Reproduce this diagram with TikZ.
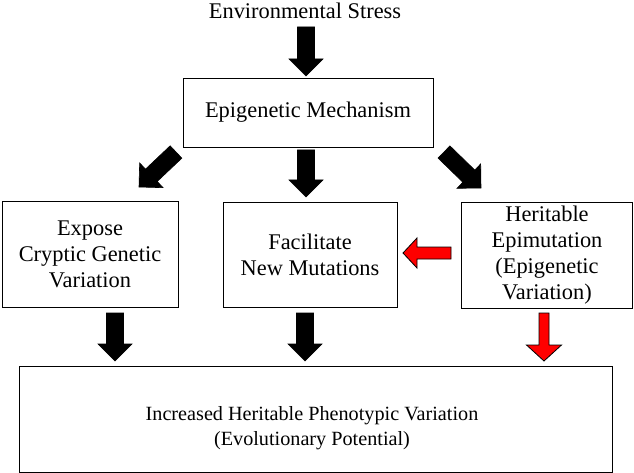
\documentclass[tikz,border=0pt]{standalone}
\usepackage{fontspec}
\setmainfont{Liberation Serif}
\usetikzlibrary{calc}
\newcommand{\blockarrow}[6]{%
  \coordinate (ba-h) at ($(#3)!#6!(#2)$);
  \filldraw[#1] ($(#2)!#4!90:(#3)$) -- ($(ba-h)!#4!90:(#3)$) -- ($(ba-h)!#5!90:(#3)$)
    -- (#3) -- ($(ba-h)!#5!-90:(#3)$) -- ($(ba-h)!#4!-90:(#3)$) -- ($(#2)!#4!-90:(#3)$) -- cycle;
}
\tikzset{
  box/.style={draw=black, line width=0.9pt, inner sep=0pt, align=center,
    font=\fontsize{22.4}{26}\selectfont},
  lbl/.style={inner sep=0pt, align=center, font=\fontsize{22.4}{26}\selectfont},
  botlbl/.style={inner sep=0pt, align=center, font=\fontsize{20.2}{25}\selectfont},
  blkarr/.style={fill=black, draw=black, line width=0.6pt, line join=miter},
  redarr/.style={fill=red, draw=black, line width=0.8pt, line join=miter},
}
\begin{document}
\begin{tikzpicture}[x=1pt, y=-1pt]
\useasboundingbox (0,0) rectangle (634,473);
\node[lbl, anchor=base] (env) at (305,19) {Environmental Stress};
\node[box, minimum width=250pt, minimum height=69pt] (mech) at (308,112.5) {Epigenetic Mechanism};
\node[box, minimum width=176pt, minimum height=106pt] (expose) at (90,254) {Expose\\Cryptic Genetic\\Variation};
\node[box, minimum width=174pt, minimum height=105pt] (facil) at (310,254.5) {Facilitate\\New Mutations};
\node[box, minimum width=171pt, minimum height=106pt] (herit) at (547,255) {Heritable\\Epimutation\\(Epigenetic\\Variation)};
\node[box, minimum width=593pt, minimum height=106pt] (bot) at (316,419) {};
\node[botlbl] (bottxt) at (312,428) {Increased Heritable Phenotypic Variation\\(Evolutionary Potential)};
% arrow end points
\coordinate (a1s) at (306,27);  \coordinate (a1e) at (306,76);
\coordinate (a2s) at (176,152); \coordinate (a2e) at (139,187);
\coordinate (a3s) at (306,150); \coordinate (a3e) at (306,197);
\coordinate (a4s) at (444,152); \coordinate (a4e) at (481,188);
\coordinate (a5s) at (451,253); \coordinate (a5e) at (403,253);
\coordinate (a6s) at (115,313); \coordinate (a6e) at (115,361);
\coordinate (a7s) at (305,313); \coordinate (a7e) at (305,361);
\coordinate (a8s) at (544,313); \coordinate (a8e) at (544,361);
\blockarrow{blkarr}{a1s}{a1e}{8.5pt}{17pt}{17pt}
\blockarrow{blkarr}{a2s}{a2e}{8.5pt}{17pt}{17pt}
\blockarrow{blkarr}{a3s}{a3e}{8.5pt}{17pt}{17pt}
\blockarrow{blkarr}{a4s}{a4e}{8.5pt}{17pt}{17pt}
\blockarrow{redarr}{a5s}{a5e}{6pt}{15pt}{14pt}
\blockarrow{blkarr}{a6s}{a6e}{8.5pt}{17pt}{17pt}
\blockarrow{blkarr}{a7s}{a7e}{8.5pt}{17pt}{17pt}
\blockarrow{redarr}{a8s}{a8e}{5pt}{17.5pt}{16pt}
\end{tikzpicture}
\end{document}
